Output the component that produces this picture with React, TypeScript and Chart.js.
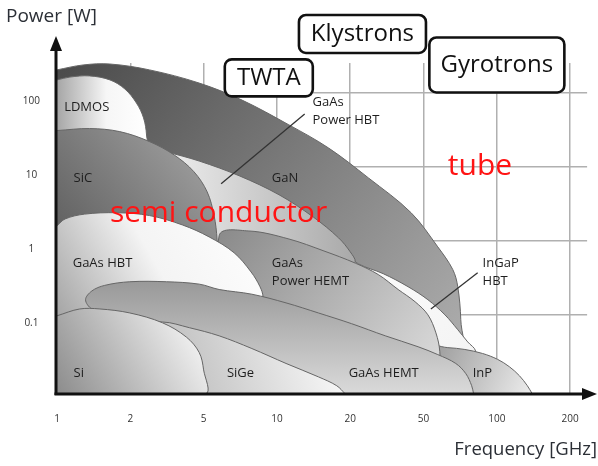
import { useEffect, useRef } from "react";
import { Chart, registerables } from "chart.js";

Chart.register(...registerables);

type Pt = [number, number]; // [frequency GHz, power W]

const FREQ_TICKS = [1, 2, 5, 10, 20, 50, 100, 200];
const FREQ_TICK_LABELS = ["1", "2", "5", "10", "20", "50", "100", "200"];
const POWER_TICKS = [0.1, 1, 10, 100];
const POWER_TICK_LABELS = ["0.1", "1", "10", "100"];
const FLOOR = 0.0085;
const POWER_MAX = 254;

// Region outlines (frequency GHz, power W), back to front
const GaN: Pt[] = [[1, 205], [1.28, 239], [1.65, 246], [2.54, 205], [4.73, 136], [7.19, 80], [11.2, 37], [16.3, 18], [25.1, 7.1], [42.8, 2.4], [57.2, 0.83], [65.9, 0.41], [69.1, 0.24], [71.1, 0.086], [71.5, FLOOR], [1, FLOOR]];
const InGaP_HBT: Pt[] = [[17.1, 0.88], [18.8, 0.71], [22.1, 0.49], [30.2, 0.36], [41.2, 0.24], [52.1, 0.16], [61.2, 0.1], [69.1, 0.063], [75.9, 0.043], [81.9, 0.032], [83.4, FLOOR], [12.3, FLOOR]];
const InP: Pt[] = [[52.1, FLOOR], [50.7, 0.037], [62.9, 0.036], [73.9, 0.034], [87.4, 0.03], [100.7, 0.025], [112.7, 0.0198], [123.8, 0.015], [133.4, 0.011], [139.9, FLOOR]];
const LDMOS: Pt[] = [[1, 150], [1.13, 164], [1.36, 170], [1.65, 150], [1.9, 113], [2.16, 73], [2.36, 46], [2.45, 27], [2.45, 12.4], [1, 12.4]];
const GaAs_Power_HBT: Pt[] = [[2.24, 20], [3.14, 16], [4.73, 12], [6.99, 7.6], [10.2, 4.2], [14.1, 2.1], [17.9, 1.1], [20, 0.71], [21.3, 0.52], [19.7, 0.43], [4.73, 0.43], [2.24, 0.43]];
const SiC: Pt[] = [[1, 31], [1.36, 33], [1.81, 30], [2.54, 22], [3.46, 14.5], [4.43, 8.6], [5.17, 4.6], [5.52, 2.2], [5.68, 1.03], [5.68, 0.52], [1, 0.52]];
const GaAs_Power_HEMT: Pt[] = [[5.79, FLOOR], [5.79, 1.17], [7.67, 1.36], [11.2, 1.06], [15.6, 0.73], [21.3, 0.5], [28.4, 0.35], [36.4, 0.22], [45.0, 0.15], [52.1, 0.1], [56.2, 0.057], [58.3, 0.032], [58.9, FLOOR]];
const GaAs_HBT: Pt[] = [[1, 1.6], [1.08, 1.98], [1.3, 2.3], [1.76, 2.4], [2.54, 2.2], [3.84, 1.64], [5.27, 1.13], [6.67, 0.69], [7.83, 0.38], [8.52, 0.24], [8.77, 0.175], [8.77, 0.063], [1, 0.063]];
const GaAs_HEMT: Pt[] = [[4.73, FLOOR], [2.54, 0.063], [1.65, 0.1], [1.39, 0.12], [1.31, 0.16], [1.39, 0.21], [1.57, 0.25], [1.99, 0.28], [3.14, 0.28], [4.73, 0.26], [5.79, 0.22], [7.89, 0.19], [10.9, 0.145], [14.8, 0.106], [20.3, 0.076], [31.0, 0.052], [46.7, 0.037], [57.2, 0.029], [67.8, 0.022], [74.6, 0.016], [78.8, 0.011], [80.3, FLOOR]];
const SiGe: Pt[] = [[2.4, FLOOR], [2.2, 0.07], [2.99, 0.08], [4.18, 0.067], [5.79, 0.052], [7.89, 0.035], [10.9, 0.022], [14.8, 0.0145], [17.6, 0.011], [19.1, FLOOR]];
const Si: Pt[] = [[1, 0.097], [1.24, 0.12], [1.5, 0.12], [1.99, 0.106], [2.99, 0.078], [4.03, 0.05], [4.73, 0.031], [5.0, 0.018], [5.07, FLOOR], [1, FLOOR]];

const REGION_NAMES = ["GaN", "InGaP HBT", "InP", "LDMOS", "GaAs Power HBT", "SiC", "GaAs Power HEMT", "GaAs HBT", "GaAs HEMT", "SiGe", "Si"];
const REGION_DATA: Pt[][] = [GaN, InGaP_HBT, InP, LDMOS, GaAs_Power_HBT, SiC, GaAs_Power_HEMT, GaAs_HBT, GaAs_HEMT, SiGe, Si];

// Text labels placed in data coordinates
const LABELS: { lines: string[]; f: number; w: number }[] = [
  { lines: ["LDMOS"], f: 1.07, w: 63 },
  { lines: ["SiC"], f: 1.17, w: 7.1 },
  { lines: ["GaN"], f: 9.53, w: 7.1 },
  { lines: ["GaAs", "Power HBT"], f: 14.0, w: 75.5 },
  { lines: ["GaAs HBT"], f: 1.16, w: 0.5 },
  { lines: ["GaAs", "Power HEMT"], f: 9.53, w: 0.5 },
  { lines: ["InGaP", "HBT"], f: 87.4, w: 0.5 },
  { lines: ["Si"], f: 1.17, w: 0.016 },
  { lines: ["SiGe"], f: 6.23, w: 0.016 },
  { lines: ["GaAs HEMT"], f: 19.7, w: 0.016 },
  { lines: ["InP"], f: 79.6, w: 0.016 },
];
const RED_LABELS: { text: string; f: number; w: number }[] = [
  { text: "semi conductor", f: 1.65, w: 1.81 },
  { text: "tube", f: 62.9, w: 7.8 },
];
const BOXES: { text: string; f: number; w: number }[] = [
  { text: "TWTA", f: 9.26, w: 160 },
  { text: "Klystrons", f: 23.3, w: 627 },
  { text: "Gyrotrons", f: 100, w: 239 },
];
const LEADERS: [number, number, number, number][] = [
  [13.0, 52, 5.9, 5.9],
  [83.4, 0.37, 53.6, 0.12],
];

// styling (not data)
const BOX_SIZES: [number, number][] = [[88, 37], [127, 38], [135, 55]];
type FillStyle = { dir: string; stops: [number, string][] };
const REGION_STYLES: FillStyle[] = [
  { dir: "tlbr", stops: [[0, "#4a4a4a"], [1, "#b3b3b3"]] },
  { dir: "tlbr", stops: [[0, "#ffffff"], [1, "#f2f2f2"]] },
  { dir: "tlbr", stops: [[0, "#969696"], [1, "#ededed"]] },
  { dir: "lr", stops: [[0, "#a6a6a6"], [0.55, "#f6f6f6"], [1, "#ffffff"]] },
  { dir: "lr", stops: [[0, "#f7f7f7"], [1, "#a9a9a9"]] },
  { dir: "trbl", stops: [[0, "#a8a8a8"], [1, "#595959"]] },
  { dir: "tlbr", stops: [[0, "#8a8a8a"], [1, "#e0e0e0"]] },
  { dir: "bltr", stops: [[0, "#a0a0a0"], [0.5, "#f4f4f4"], [1, "#ffffff"]] },
  { dir: "tb", stops: [[0, "#999999"], [1, "#dadada"]] },
  { dir: "bltr", stops: [[0, "#b0b0b0"], [1, "#ffffff"]] },
  { dir: "bltr", stops: [[0, "#8c8c8c"], [1, "#ffffff"]] },
];

function fpos(f: number): number {
  const t = FREQ_TICKS;
  let i = 0;
  while (i < t.length - 2 && f > t[i + 1]) i++;
  return i + Math.log(f / t[i]) / Math.log(t[i + 1] / t[i]);
}

function makeFill(style: FillStyle, pts: Pt[]) {
  const fallback = style.stops[style.stops.length - 1][1];
  return (ctx: any) => {
    const chart = ctx.chart;
    const xs = chart.scales?.x;
    const ys = chart.scales?.y;
    if (!xs || !ys || !chart.chartArea) return fallback;
    let x0 = Infinity, y0 = Infinity, x1 = -Infinity, y1 = -Infinity;
    for (const [f, w] of pts) {
      const px = xs.getPixelForValue(fpos(f));
      const py = ys.getPixelForValue(w);
      x0 = Math.min(x0, px); x1 = Math.max(x1, px);
      y0 = Math.min(y0, py); y1 = Math.max(y1, py);
    }
    if (!isFinite(x0 + x1 + y0 + y1)) return fallback;
    const c: CanvasRenderingContext2D = chart.ctx;
    let g: CanvasGradient;
    switch (style.dir) {
      case "tlbr": g = c.createLinearGradient(x0, y0, x1, y1); break;
      case "bltr": g = c.createLinearGradient(x0, y1, x1, y0); break;
      case "trbl": g = c.createLinearGradient(x1, y0, x0, y1); break;
      case "lr": g = c.createLinearGradient(x0, 0, x1, 0); break;
      default: g = c.createLinearGradient(0, y0, 0, y1);
    }
    for (const [o, col] of style.stops) g.addColorStop(o, col);
    return g;
  };
}

const FONT = '"Open Sans", "DejaVu Sans", sans-serif';

const overlayPlugin = {
  id: "overlay",
  afterDraw(chart: any) {
    const c: CanvasRenderingContext2D = chart.ctx;
    const xs = chart.scales.x;
    const ys = chart.scales.y;
    const X = (f: number) => xs.getPixelForValue(fpos(f));
    const Y = (w: number) => ys.getPixelForValue(w);
    const { left, bottom } = chart.chartArea;
    c.save();

    // leader lines
    c.strokeStyle = "#333";
    c.lineWidth = 1.3;
    for (const [f1, w1, f2, w2] of LEADERS) {
      c.beginPath();
      c.moveTo(X(f1), Y(w1));
      c.lineTo(X(f2), Y(w2));
      c.stroke();
    }

    // region labels
    c.fillStyle = "#1e1e1e";
    c.font = `13px ${FONT}`;
    c.textAlign = "left";
    c.textBaseline = "middle";
    for (const l of LABELS) {
      l.lines.forEach((s, i) => c.fillText(s, X(l.f), Y(l.w) + i * 18));
    }

    // red labels
    c.fillStyle = "#ff1414";
    c.font = `30px ${FONT}`;
    c.textBaseline = "alphabetic";
    for (const r of RED_LABELS) c.fillText(r.text, X(r.f), Y(r.w));

    // boxes
    BOXES.forEach((b, i) => {
      const [bw, bh] = BOX_SIZES[i];
      const cx = X(b.f), cy = Y(b.w);
      c.beginPath();
      (c as any).roundRect(cx - bw / 2, cy - bh / 2, bw, bh, 7);
      c.fillStyle = "#ffffff";
      c.fill();
      c.lineWidth = 2.6;
      c.strokeStyle = "#111";
      c.stroke();
      c.fillStyle = "#111";
      c.font = `24px ${FONT}`;
      c.textAlign = "center";
      c.textBaseline = "middle";
      c.fillText(b.text, cx, cy);
    });

    // axes with arrows
    c.strokeStyle = "#111";
    c.fillStyle = "#111";
    c.lineWidth = 3;
    c.beginPath();
    c.moveTo(left, bottom + 1);
    c.lineTo(left, 48);
    c.stroke();
    c.beginPath();
    c.moveTo(left - 1.5, bottom);
    c.lineTo(586, bottom);
    c.stroke();
    c.beginPath();
    c.moveTo(left, 36);
    c.lineTo(left - 6, 51);
    c.lineTo(left + 6, 51);
    c.closePath();
    c.fill();
    c.beginPath();
    c.moveTo(597, bottom);
    c.lineTo(582, bottom - 6);
    c.lineTo(582, bottom + 6);
    c.closePath();
    c.fill();

    // axis titles
    c.fillStyle = "#2b2f36";
    c.font = `19px ${FONT}`;
    c.textAlign = "left";
    c.textBaseline = "middle";
    c.fillText("Power [W]", 6, 17);
    c.font = `18.5px ${FONT}`;
    c.textAlign = "right";
    c.fillText("Frequency [GHz]", 597, 450);
    c.restore();
  },
};

export default function App() {
  const ref = useRef<HTMLCanvasElement>(null);
  useEffect(() => {
    if (!ref.current) return;
    const datasets = REGION_DATA.map((pts, i) => ({
      label: REGION_NAMES[i],
      data: pts.map(([f, w]) => ({ x: fpos(f), y: w })),
      fill: "shape" as any,
      backgroundColor: makeFill(REGION_STYLES[i], pts),
      borderColor: "#666666",
      borderWidth: 1,
      pointRadius: 0,
      pointHoverRadius: 0,
      tension: 0.35,
      order: REGION_DATA.length - i,
    }));
    const chart = new Chart(ref.current, {
      type: "line",
      data: { datasets },
      plugins: [overlayPlugin],
      options: {
        animation: false,
        responsive: false,
        devicePixelRatio: 1,
        events: [],
        layout: { padding: { top: 63, right: 8, left: 0, bottom: 0 } },
        plugins: { legend: { display: false }, tooltip: { enabled: false } },
        scales: {
          x: {
            type: "linear",
            min: -1 / 73.71,
            max: 7.231,
            afterFit: (s: any) => { s.height = 72; },
            afterBuildTicks: (s: any) => { s.ticks = FREQ_TICKS.map((_, i) => ({ value: i })); },
            ticks: {
              autoSkip: false,
              maxRotation: 0,
              padding: 19,
              color: "#333",
              font: { family: FONT, size: 10 },
              callback: (v: any) => FREQ_TICK_LABELS[Math.round(Number(v))] ?? "",
            },
            grid: {
              drawTicks: false,
              lineWidth: 1.5,
              color: (ctx: any) => (ctx.tick && ctx.tick.value === 0 ? "rgba(0,0,0,0)" : "#b0b0b0"),
            },
            border: { display: false },
          },
          y: {
            type: "logarithmic",
            min: FLOOR,
            max: POWER_MAX,
            afterFit: (s: any) => { s.width = 56; },
            afterBuildTicks: (s: any) => { s.ticks = POWER_TICKS.map((v) => ({ value: v })); },
            ticks: {
              autoSkip: false,
              padding: 16,
              crossAlign: "center",
              labelOffset: 8,
              color: "#333",
              font: { family: FONT, size: 10 },
              callback: (v: any) => {
                const i = POWER_TICKS.findIndex((t) => Math.abs(Math.log10(t) - Math.log10(Number(v))) < 1e-6);
                return i >= 0 ? POWER_TICK_LABELS[i] : "";
              },
            },
            grid: { drawTicks: false, lineWidth: 1.5, color: "#b0b0b0" },
            border: { display: false },
          },
        },
      } as any,
    });
    return () => chart.destroy();
  }, []);
  return (
    <div style={{ position: "absolute", left: 0, top: 0, width: 598, height: 466, background: "#fff" }}>
      <canvas ref={ref} width={598} height={466} />
    </div>
  );
}
